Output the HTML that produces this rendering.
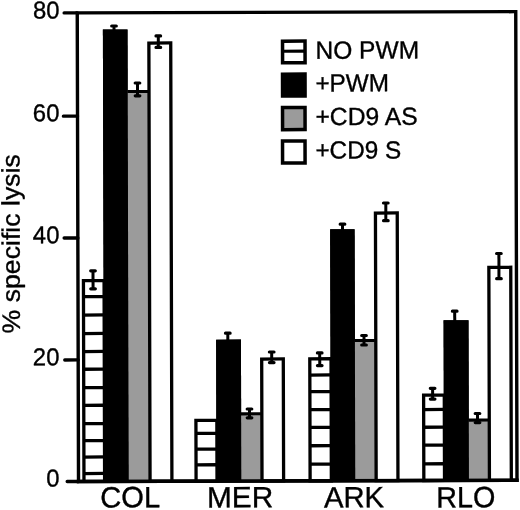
<!DOCTYPE html>
<html lang="en"><head><meta charset="utf-8"><title>% specific lysis</title>
<style>
html,body{margin:0;padding:0;background:#fff;}
body{width:520px;height:510px;overflow:hidden;}
svg{display:block;}
text{font-family:"Liberation Sans",Arial,Helvetica,sans-serif;fill:#000;}
</style></head><body>
<svg width="520" height="510" viewBox="0 0 520 510">
<rect width="520" height="510" fill="#fff"/>
<g transform="rotate(-0.1547 260 255)">
<rect x="77.9" y="12.35" width="438.50" height="468.60" fill="none" stroke="#000" stroke-width="3.4"/>
<line x1="64.8" y1="12.35" x2="77.9" y2="12.35" stroke="#000" stroke-width="3.4" stroke-linecap="round"/>
<line x1="63.8" y1="115.6" x2="77.9" y2="115.6" stroke="#000" stroke-width="3.4" stroke-linecap="round"/>
<line x1="64.2" y1="237.5" x2="77.9" y2="237.5" stroke="#000" stroke-width="3.4" stroke-linecap="round"/>
<line x1="64.5" y1="359.4" x2="77.9" y2="359.4" stroke="#000" stroke-width="3.4" stroke-linecap="round"/>
<line x1="66.6" y1="481.0" x2="77.9" y2="481.0" stroke="#000" stroke-width="3.4" stroke-linecap="round"/>
<rect x="103.50" y="29.11" width="24.60" height="451.84" fill="#000"/>
<rect x="127.80" y="91.17" width="20.70" height="389.78" fill="#9b9b9b"/>
<line x1="127.80" y1="91.17" x2="148.50" y2="91.17" stroke="#000" stroke-width="3.1"/>
<rect x="149.45" y="42.73" width="21.85" height="438.22" fill="#fff" stroke="#000" stroke-width="3.3"/>
<rect x="83.36" y="280.25" width="20.64" height="200.70" fill="#fff" stroke="#000" stroke-width="3.3"/>
<line x1="83.36" y1="296.15" x2="104.00" y2="296.15" stroke="#000" stroke-width="3.3"/>
<line x1="83.36" y1="314.55" x2="104.00" y2="314.55" stroke="#000" stroke-width="3.3"/>
<line x1="83.36" y1="333.05" x2="104.00" y2="333.05" stroke="#000" stroke-width="3.3"/>
<line x1="83.36" y1="351.05" x2="104.00" y2="351.05" stroke="#000" stroke-width="3.3"/>
<line x1="83.36" y1="368.75" x2="104.00" y2="368.75" stroke="#000" stroke-width="3.3"/>
<line x1="83.36" y1="387.15" x2="104.00" y2="387.15" stroke="#000" stroke-width="3.3"/>
<line x1="83.36" y1="404.85" x2="104.00" y2="404.85" stroke="#000" stroke-width="3.3"/>
<line x1="83.36" y1="423.15" x2="104.00" y2="423.15" stroke="#000" stroke-width="3.3"/>
<line x1="83.36" y1="440.15" x2="104.00" y2="440.15" stroke="#000" stroke-width="3.3"/>
<line x1="83.36" y1="456.55" x2="104.00" y2="456.55" stroke="#000" stroke-width="3.3"/>
<line x1="83.36" y1="473.05" x2="104.00" y2="473.05" stroke="#000" stroke-width="3.3"/>
<rect x="103.50" y="29.11" width="24.60" height="451.84" fill="#000"/>
<rect x="215.91" y="339.52" width="24.80" height="141.43" fill="#000"/>
<rect x="240.30" y="413.78" width="20.20" height="67.17" fill="#9b9b9b"/>
<line x1="240.30" y1="413.78" x2="260.50" y2="413.78" stroke="#000" stroke-width="3.1"/>
<rect x="261.41" y="359.03" width="21.60" height="121.92" fill="#fff" stroke="#000" stroke-width="3.3"/>
<rect x="195.47" y="420.25" width="20.94" height="60.70" fill="#fff" stroke="#000" stroke-width="3.3"/>
<line x1="195.47" y1="433.25" x2="216.41" y2="433.25" stroke="#000" stroke-width="3.3"/>
<line x1="195.47" y1="449.05" x2="216.41" y2="449.05" stroke="#000" stroke-width="3.3"/>
<line x1="195.47" y1="464.65" x2="216.41" y2="464.65" stroke="#000" stroke-width="3.3"/>
<rect x="215.91" y="339.52" width="24.80" height="141.43" fill="#000"/>
<rect x="330.25" y="229.52" width="24.40" height="251.43" fill="#000"/>
<rect x="354.11" y="340.78" width="20.50" height="140.17" fill="#9b9b9b"/>
<line x1="354.11" y1="340.78" x2="374.61" y2="340.78" stroke="#000" stroke-width="3.1"/>
<rect x="375.55" y="213.34" width="21.80" height="267.61" fill="#fff" stroke="#000" stroke-width="3.3"/>
<rect x="309.51" y="358.96" width="21.24" height="121.99" fill="#fff" stroke="#000" stroke-width="3.3"/>
<line x1="309.51" y1="375.16" x2="330.75" y2="375.16" stroke="#000" stroke-width="3.3"/>
<line x1="309.51" y1="391.76" x2="330.75" y2="391.76" stroke="#000" stroke-width="3.3"/>
<line x1="309.51" y1="409.76" x2="330.75" y2="409.76" stroke="#000" stroke-width="3.3"/>
<line x1="309.51" y1="427.56" x2="330.75" y2="427.56" stroke="#000" stroke-width="3.3"/>
<line x1="309.51" y1="445.86" x2="330.75" y2="445.86" stroke="#000" stroke-width="3.3"/>
<line x1="309.51" y1="464.26" x2="330.75" y2="464.26" stroke="#000" stroke-width="3.3"/>
<rect x="330.25" y="229.52" width="24.40" height="251.43" fill="#000"/>
<rect x="443.41" y="320.73" width="24.90" height="160.22" fill="#000"/>
<rect x="467.90" y="420.69" width="20.10" height="60.26" fill="#9b9b9b"/>
<line x1="467.90" y1="420.69" x2="488.00" y2="420.69" stroke="#000" stroke-width="3.1"/>
<rect x="488.82" y="267.95" width="21.90" height="213.00" fill="#fff" stroke="#000" stroke-width="3.3"/>
<rect x="423.23" y="395.57" width="20.68" height="85.38" fill="#fff" stroke="#000" stroke-width="3.3"/>
<line x1="423.23" y1="409.97" x2="443.91" y2="409.97" stroke="#000" stroke-width="3.3"/>
<line x1="423.23" y1="427.67" x2="443.91" y2="427.67" stroke="#000" stroke-width="3.3"/>
<line x1="423.23" y1="445.57" x2="443.91" y2="445.57" stroke="#000" stroke-width="3.3"/>
<line x1="423.23" y1="464.27" x2="443.91" y2="464.27" stroke="#000" stroke-width="3.3"/>
<rect x="443.41" y="320.73" width="24.90" height="160.22" fill="#000"/>
<line x1="92.96" y1="270.35" x2="92.96" y2="288.35" stroke="#000" stroke-width="3.0"/>
<line x1="90.66" y1="270.35" x2="95.26" y2="270.35" stroke="#000" stroke-width="3.2" stroke-linecap="round"/>
<line x1="90.66" y1="288.35" x2="95.26" y2="288.35" stroke="#000" stroke-width="3.2" stroke-linecap="round"/>
<line x1="114.62" y1="25.61" x2="114.62" y2="30.61" stroke="#000" stroke-width="3.0"/>
<line x1="112.32" y1="25.61" x2="116.92" y2="25.61" stroke="#000" stroke-width="3.2" stroke-linecap="round"/>
<line x1="137.96" y1="82.67" x2="137.96" y2="95.47" stroke="#000" stroke-width="3.0"/>
<line x1="135.66" y1="82.67" x2="140.26" y2="82.67" stroke="#000" stroke-width="3.2" stroke-linecap="round"/>
<line x1="135.66" y1="95.47" x2="140.26" y2="95.47" stroke="#000" stroke-width="3.2" stroke-linecap="round"/>
<line x1="158.89" y1="35.63" x2="158.89" y2="47.13" stroke="#000" stroke-width="3.0"/>
<line x1="156.59" y1="35.63" x2="161.19" y2="35.63" stroke="#000" stroke-width="3.2" stroke-linecap="round"/>
<line x1="156.59" y1="47.13" x2="161.19" y2="47.13" stroke="#000" stroke-width="3.2" stroke-linecap="round"/>
<line x1="227.59" y1="333.11" x2="227.59" y2="340.91" stroke="#000" stroke-width="3.0"/>
<line x1="225.29" y1="333.11" x2="229.89" y2="333.11" stroke="#000" stroke-width="3.2" stroke-linecap="round"/>
<line x1="249.08" y1="408.97" x2="249.08" y2="417.77" stroke="#000" stroke-width="3.0"/>
<line x1="246.78" y1="408.97" x2="251.38" y2="408.97" stroke="#000" stroke-width="3.2" stroke-linecap="round"/>
<line x1="246.78" y1="417.77" x2="251.38" y2="417.77" stroke="#000" stroke-width="3.2" stroke-linecap="round"/>
<line x1="271.44" y1="352.03" x2="271.44" y2="362.63" stroke="#000" stroke-width="3.0"/>
<line x1="269.14" y1="352.03" x2="273.74" y2="352.03" stroke="#000" stroke-width="3.2" stroke-linecap="round"/>
<line x1="269.14" y1="362.63" x2="273.74" y2="362.63" stroke="#000" stroke-width="3.2" stroke-linecap="round"/>
<line x1="319.44" y1="353.06" x2="319.44" y2="365.76" stroke="#000" stroke-width="3.0"/>
<line x1="317.14" y1="353.06" x2="321.74" y2="353.06" stroke="#000" stroke-width="3.2" stroke-linecap="round"/>
<line x1="317.14" y1="365.76" x2="321.74" y2="365.76" stroke="#000" stroke-width="3.2" stroke-linecap="round"/>
<line x1="342.58" y1="224.42" x2="342.58" y2="231.22" stroke="#000" stroke-width="3.0"/>
<line x1="340.28" y1="224.42" x2="344.88" y2="224.42" stroke="#000" stroke-width="3.2" stroke-linecap="round"/>
<line x1="363.78" y1="335.78" x2="363.78" y2="345.28" stroke="#000" stroke-width="3.0"/>
<line x1="361.48" y1="335.78" x2="366.08" y2="335.78" stroke="#000" stroke-width="3.2" stroke-linecap="round"/>
<line x1="361.48" y1="345.28" x2="366.08" y2="345.28" stroke="#000" stroke-width="3.2" stroke-linecap="round"/>
<line x1="385.94" y1="203.34" x2="385.94" y2="221.04" stroke="#000" stroke-width="3.0"/>
<line x1="383.64" y1="203.34" x2="388.24" y2="203.34" stroke="#000" stroke-width="3.2" stroke-linecap="round"/>
<line x1="383.64" y1="221.04" x2="388.24" y2="221.04" stroke="#000" stroke-width="3.2" stroke-linecap="round"/>
<line x1="432.24" y1="388.77" x2="432.24" y2="399.57" stroke="#000" stroke-width="3.0"/>
<line x1="429.94" y1="388.77" x2="434.54" y2="388.77" stroke="#000" stroke-width="3.2" stroke-linecap="round"/>
<line x1="429.94" y1="399.57" x2="434.54" y2="399.57" stroke="#000" stroke-width="3.2" stroke-linecap="round"/>
<line x1="454.55" y1="311.73" x2="454.55" y2="322.53" stroke="#000" stroke-width="3.0"/>
<line x1="452.25" y1="311.73" x2="456.85" y2="311.73" stroke="#000" stroke-width="3.2" stroke-linecap="round"/>
<line x1="477.07" y1="414.09" x2="477.07" y2="423.19" stroke="#000" stroke-width="3.0"/>
<line x1="474.77" y1="414.09" x2="479.37" y2="414.09" stroke="#000" stroke-width="3.2" stroke-linecap="round"/>
<line x1="474.77" y1="423.19" x2="479.37" y2="423.19" stroke="#000" stroke-width="3.2" stroke-linecap="round"/>
<line x1="498.90" y1="254.15" x2="498.90" y2="279.35" stroke="#000" stroke-width="3.0"/>
<line x1="496.60" y1="254.15" x2="501.20" y2="254.15" stroke="#000" stroke-width="3.2" stroke-linecap="round"/>
<line x1="496.60" y1="279.35" x2="501.20" y2="279.35" stroke="#000" stroke-width="3.2" stroke-linecap="round"/>
<line x1="76.2" y1="480.95" x2="518.1" y2="480.95" stroke="#000" stroke-width="3.4"/>
<rect x="283.10" y="41.24" width="22.50" height="21.60" fill="#fff" stroke="#000" stroke-width="3.5"/>
<rect x="283.01" y="74.24" width="22.50" height="21.90" fill="#000" stroke="#000" stroke-width="3.5"/>
<rect x="282.92" y="107.54" width="22.50" height="22.20" fill="#9b9b9b" stroke="#000" stroke-width="3.5"/>
<rect x="282.83" y="141.04" width="22.50" height="22.10" fill="#fff" stroke="#000" stroke-width="3.5"/>
<line x1="282.35" y1="51.29" x2="306.35" y2="51.29" stroke="#000" stroke-width="3.2"/>
<text transform="translate(315.93 58.85) scale(0.995 1)" font-size="24.7" text-anchor="start" stroke="#000" stroke-width="0.35">NO PWM</text>
<text transform="translate(315.84 91.65) scale(0.986 1)" font-size="24.7" text-anchor="start" stroke="#000" stroke-width="0.35">+PWM</text>
<text transform="translate(315.75 125.25) scale(1.0 1)" font-size="24.7" text-anchor="start" stroke="#000" stroke-width="0.35">+CD9 AS</text>
<text transform="translate(315.66 158.75) scale(0.9865 1)" font-size="24.7" text-anchor="start" stroke="#000" stroke-width="0.35">+CD9 S</text>
<text transform="translate(60.14 17.96) scale(0.985 1)" font-size="24.3" text-anchor="end" stroke="#000" stroke-width="0.35">80</text>
<text transform="translate(59.86 120.76) scale(0.985 1)" font-size="24.3" text-anchor="end" stroke="#000" stroke-width="0.35">60</text>
<text transform="translate(59.53 242.76) scale(0.985 1)" font-size="24.3" text-anchor="end" stroke="#000" stroke-width="0.35">40</text>
<text transform="translate(59.20 364.56) scale(0.985 1)" font-size="24.3" text-anchor="end" stroke="#000" stroke-width="0.35">20</text>
<text transform="translate(58.87 485.96) scale(0.985 1)" font-size="24.3" text-anchor="end" stroke="#000" stroke-width="0.35">0</text>
<text transform="translate(129.57 506.95) scale(0.995 1)" font-size="29.3" text-anchor="middle" stroke="#000" stroke-width="0.35">COL</text>
<text transform="translate(239.42 507.25) scale(1.02 1)" font-size="29.3" text-anchor="middle" stroke="#000" stroke-width="0.35">MER</text>
<text transform="translate(353.32 507.55) scale(1.0 1)" font-size="29.3" text-anchor="middle" stroke="#000" stroke-width="0.35">ARK</text>
<text transform="translate(465.12 507.86) scale(0.983 1)" font-size="29.3" text-anchor="middle" stroke="#000" stroke-width="0.35">RLO</text>
<text transform="translate(19.73 243.15) rotate(-90) scale(1.055 1)" font-size="25.3" text-anchor="middle" stroke="#000" stroke-width="0.35">% specific lysis</text>
</g>
</svg>
</body></html>
